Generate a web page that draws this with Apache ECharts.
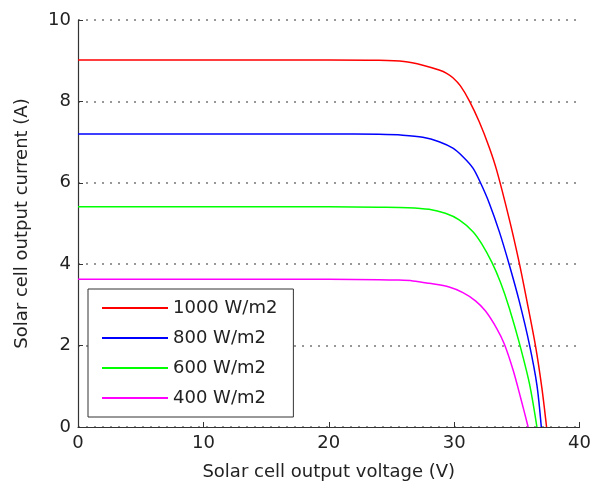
<!DOCTYPE html>
<html>
<head>
<meta charset="utf-8">
<script src="https://cdn.jsdelivr.net/npm/echarts@6/dist/echarts.min.js"></script>
<style>
  html, body { margin: 0; padding: 0; background: #fff; }
  #main { width: 594px; height: 487px; }
</style>
</head>
<body>
<div id="main"></div>
<script>
// irradiance levels (legend)
var seriesNames = ['1000 W/m2', '800 W/m2', '600 W/m2', '400 W/m2'];
var seriesColors = ['#ff0000', '#0000ff', '#00ff00', '#ff00ff'];

// voltage (V) / current (A)
var v1000 = [0, 10, 20, 24, 26, 27.5, 28.8, 29.4, 29.9, 30.5, 31.2, 32.0, 32.8, 33.4, 34.4, 35.2, 35.8, 36.5, 37.0, 37.37];
var i1000 = [9.02, 9.02, 9.02, 9.01, 8.98, 8.89, 8.77, 8.69, 8.58, 8.38, 8.02, 7.50, 6.87, 6.30, 5.10, 4.02, 3.10, 1.97, 0.95, 0];

var v800 = [0, 10, 20, 24, 25.9, 27.5, 28.8, 29.9, 30.7, 31.5, 32.1, 32.8, 33.6, 34.4, 35.2, 36.0, 36.6, 36.95];
var i800 = [7.2, 7.2, 7.2, 7.19, 7.17, 7.12, 7.01, 6.85, 6.64, 6.36, 6.00, 5.50, 4.80, 3.98, 3.08, 2.03, 1.03, 0];

var v600 = [0, 10, 20, 24, 26.3, 28.0, 29.3, 30.4, 31.5, 32.2, 33.0, 33.7, 34.4, 35.2, 36.0, 36.6];
var i600 = [5.41, 5.41, 5.41, 5.4, 5.39, 5.35, 5.25, 5.09, 4.80, 4.50, 4.05, 3.55, 2.92, 2.06, 1.07, 0];

var v400 = [0, 10, 20, 24, 25.5, 26.7, 28.0, 29.6, 30.7, 31.7, 32.5, 33.4, 34.0, 34.7, 35.3, 35.9];
var i400 = [3.63, 3.63, 3.63, 3.62, 3.61, 3.59, 3.53, 3.44, 3.30, 3.10, 2.85, 2.42, 2.04, 1.40, 0.72, 0];

var xTicks = [0, 10, 20, 30, 40];
var yTicks = [0, 2, 4, 6, 8, 10];

function pairs(xs, ys) {
    var out = [];
    for (var k = 0; k < xs.length; k++) out.push([xs[k], ys[k]]);
    return out;
}

var allV = [v1000, v800, v600, v400];
var allI = [i1000, i800, i600, i400];

var font = 'DejaVu Sans, Verdana, sans-serif';
var txt = '#222';
var series = seriesNames.map(function (name, k) {
    return {
        name: name,
        type: 'line',
        data: pairs(allV[k], allI[k]),
        smooth: 0.3,
        symbol: 'none',
        lineStyle: { color: seriesColors[k], width: 1.5 },
        itemStyle: { color: seriesColors[k] }
    };
});

var myChart = echarts.init(document.getElementById('main'), null, { renderer: 'canvas' });
myChart.setOption({
    animation: false,
    backgroundColor: '#fff',
    grid: { left: 78, right: 12, top: 20, bottom: 60 },
    legend: {
        orient: 'vertical',
        left: 88,
        top: 289,
        padding: [10, 16, 10, 14],
        backgroundColor: '#fff',
        borderColor: '#333',
        borderWidth: 1,
        itemWidth: 66,
        itemHeight: 14,
        itemGap: 12,
        icon: 'path://M0,0 L66,0 L66,2 L0,2 Z',
        textStyle: { fontFamily: font, fontSize: 18, color: txt },
        data: seriesNames
    },
    xAxis: {
        type: 'value',
        min: xTicks[0],
        max: xTicks[xTicks.length - 1],
        interval: 10,
        name: 'Solar cell output voltage (V)',
        nameLocation: 'middle',
        nameGap: 36,
        nameTextStyle: { fontFamily: font, fontSize: 18, color: txt },
        axisLine: { lineStyle: { color: '#333', width: 1.2 } },
        axisTick: { inside: true, length: 5, lineStyle: { color: '#333' } },
        axisLabel: { fontFamily: font, fontSize: 18, color: txt, margin: 7 },
        splitLine: { show: false }
    },
    yAxis: {
        type: 'value',
        min: yTicks[0],
        max: yTicks[yTicks.length - 1],
        interval: 2,
        name: 'Solar cell output current (A)',
        nameLocation: 'middle',
        nameGap: 47,
        nameTextStyle: { fontFamily: font, fontSize: 18, color: txt },
        axisLine: { show: true, lineStyle: { color: '#333', width: 1.2 } },
        axisTick: { show: true, inside: true, length: 5, lineStyle: { color: '#333' } },
        axisLabel: { fontFamily: font, fontSize: 18, color: txt, margin: 7 },
        splitLine: { show: true, lineStyle: { color: '#777', width: 1.5, type: [2, 6] } }
    },
    series: series
});
</script>
</body>
</html>
